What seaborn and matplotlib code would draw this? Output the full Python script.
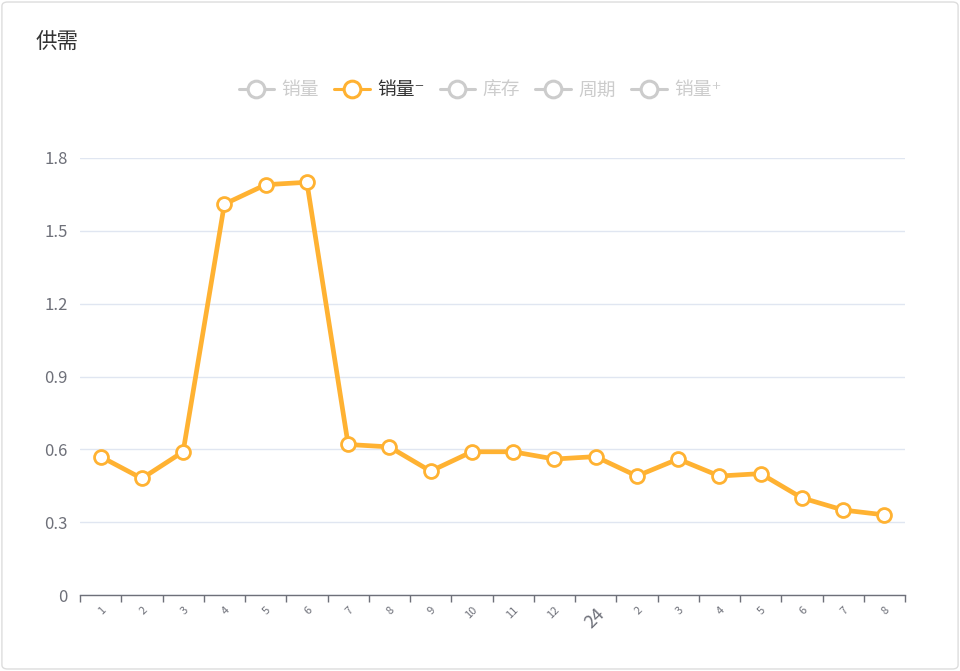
import pandas as pd
import numpy as np
import matplotlib
matplotlib.use("Agg")
import matplotlib.pyplot as plt
import seaborn as sns
from matplotlib.lines import Line2D
from matplotlib.patches import FancyBboxPatch

# data
months = ["1", "2", "3", "4", "5", "6", "7", "8", "9", "10", "11", "12",
          "24", "2", "3", "4", "5", "6", "7", "8"]
sales_minus = [0.57, 0.48, 0.59, 1.61, 1.69, 1.70, 0.62, 0.61, 0.51, 0.59,
               0.59, 0.56, 0.57, 0.49, 0.56, 0.49, 0.50, 0.40, 0.35, 0.33]
legend_names = ["销量", "销量⁻", "库存", "周期", "销量⁺"]
active = "销量⁻"

orange = "#FFB232"
gray_off = "#CCCCCC"
axis_col = "#6E7079"

sns.set_style("white")
plt.rcParams["font.family"] = ["Noto Sans CJK SC", "DejaVu Sans"]

df = pd.DataFrame({"pos": np.arange(len(months)), "value": sales_minus})

fig = plt.figure(figsize=(9.6, 6.71), dpi=100)
ax = fig.add_axes([80 / 960, 1 - 595 / 671, 825 / 960, (595 - 158) / 671])

sns.lineplot(data=df, x="pos", y="value", ax=ax, color=orange, linewidth=3.4,
             marker="o", markersize=10, markerfacecolor="white",
             markeredgecolor=orange, markeredgewidth=2, zorder=3)

ax.set_xlim(-0.5, len(months) - 0.5)
ax.set_ylim(0, 1.8)
yt = np.arange(0, 1.81, 0.3)
ax.set_yticks(yt)
ax.set_yticklabels([f"{v:.1f}" if v > 0 else "0" for v in yt],
                   color=axis_col, fontsize=12)
ax.yaxis.grid(True, color="#E0E6F1", linewidth=1)
ax.tick_params(axis="y", length=0, pad=9)

# ticks on band edges, labels at centres
ax.set_xticks(np.arange(-0.5, len(months) + 0.5, 1), minor=False)
ax.set_xticklabels([])
ax.tick_params(axis="x", which="major", bottom=True, length=5, color=axis_col, width=1)
ax.set_xticks(np.arange(len(months)), minor=True)
ax.set_xticklabels(months, minor=True)
ax.tick_params(axis="x", which="minor", bottom=True, length=0, pad=7)
for lbl in ax.get_xticklabels(minor=True):
    lbl.set_rotation(45)
    lbl.set_ha("right")
    lbl.set_va("top")
    lbl.set_rotation_mode("anchor")
    lbl.set_color(axis_col)
    lbl.set_fontsize(13 if lbl.get_text() == "24" else 8)

ax.set_xlabel("")
ax.set_ylabel("")
for s in ["top", "right", "left"]:
    ax.spines[s].set_visible(False)
ax.spines["bottom"].set_color(axis_col)
ax.spines["bottom"].set_linewidth(1)

# legend
handles = []
for name in legend_names:
    c = orange if name == active else gray_off
    handles.append(Line2D([0], [0], color=c, linewidth=2.2, marker="o", markersize=12,
                          markerfacecolor="white", markeredgecolor=c, markeredgewidth=2.2))
leg = fig.legend(handles, legend_names, loc="center", bbox_to_anchor=(0.5, 1 - 90 / 671),
                 ncol=5, frameon=False, fontsize=13.5, handlelength=1.9,
                 columnspacing=0.8, handletextpad=0.4)
for t, name in zip(leg.get_texts(), legend_names):
    t.set_color("#333333" if name == active else gray_off)

fig.text(36 / 960, 1 - 42 / 671, "供需", fontsize=15.5, fontweight="medium",
         color="#333333", va="center", ha="left")

fig.patches.append(FancyBboxPatch((0.002, 0.003), 0.996, 0.994,
                                  boxstyle="round,pad=0,rounding_size=0.006",
                                  transform=fig.transFigure, facecolor="none",
                                  edgecolor="#DDDDDD", linewidth=1))

fig.savefig("out.png", dpi=100)
